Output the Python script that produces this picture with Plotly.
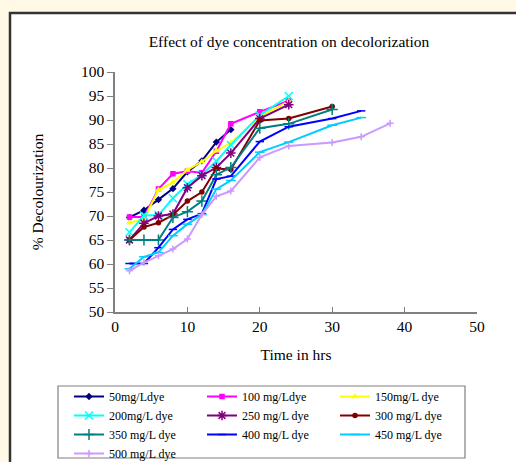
import plotly.graph_objects as go

time_a = [2, 4, 6, 8, 10, 12, 14, 16]
time_b = [2, 4, 6, 8, 10, 12, 14, 16, 20, 24]
time_c = [2, 4, 6, 8, 10, 12, 14, 16, 20, 24, 30]
time_d = [2, 4, 6, 8, 10, 12, 14, 16, 20, 24, 30, 34]
time_e = [2, 4, 6, 8, 10, 12, 14, 16, 20, 24, 30, 34, 38]

dye_50 = [69.7, 71.2, 73.4, 75.7, 79.2, 81.5, 85.4, 88.0]
dye_100 = [69.8, 69.8, 75.6, 78.8, 79.3, 79.0, 83.5, 89.2, 91.7, 94.0]
dye_150 = [68.6, 69.4, 75.4, 77.0, 79.6, 81.3, 83.6, 85.2, 90.7, 93.9]
dye_200 = [66.6, 70.1, 70.2, 73.7, 76.6, 78.6, 81.4, 84.8, 91.0, 95.0]
dye_250 = [65.0, 68.5, 70.0, 70.4, 75.9, 78.4, 80.1, 83.1, 90.3, 93.2]
dye_300 = [65.0, 67.7, 68.6, 70.2, 73.1, 75.0, 79.9, 79.7, 89.9, 90.3, 92.8]
dye_350 = [65.0, 65.0, 65.0, 69.7, 70.9, 73.1, 78.6, 80.1, 88.3, 89.2, 92.2]
dye_400 = [60.1, 60.1, 63.4, 67.2, 69.3, 70.5, 77.7, 78.3, 85.5, 88.6, 90.3, 91.9]
dye_450 = [59.0, 61.5, 62.4, 65.9, 68.3, 70.3, 75.6, 77.4, 83.3, 85.4, 88.9, 90.5]
dye_500 = [58.6, 60.3, 61.7, 63.1, 65.2, 70.3, 74.1, 75.2, 82.2, 84.6, 85.3, 86.5, 89.3]

names = ["50mg/Ldye", "100 mg/Ldye", "150mg/L dye", "200mg/L dye", "250 mg/L dye",
         "300 mg/L dye", "350 mg/L dye", "400 mg/L dye", "450 mg/L dye", "500 mg/L dye"]
xs = [time_a, time_b, time_b, time_b, time_b, time_c, time_c, time_d, time_d, time_e]
ys = [dye_50, dye_100, dye_150, dye_200, dye_250, dye_300, dye_350, dye_400, dye_450, dye_500]
colors = ["#000080", "#FF00FF", "#FFFF00", "#00FFFF", "#800080",
          "#800000", "#008080", "#0000FF", "#00CCFF", "#CC99FF"]
symbols = ["diamond", "square", "triangle-up", "x-thin", "asterisk",
           "circle", "cross-thin", "line-ew", "line-ew", "cross-thin"]
sizes = [4, 4, 4, 8, 8, 4, 8, 6, 7, 5]

FONT = "Liberation Serif, Times New Roman, serif"
FS = 15.5

fig = go.Figure()
for n, x, y, c, s, sz in zip(names, xs, ys, colors, symbols, sizes):
    fig.add_trace(go.Scatter(
        x=x, y=y, name=n, mode="lines+markers",
        line=dict(color=c, width=2),
        marker=dict(symbol=s, size=sz, color=c, line=dict(color=c, width=1.5)),
    ))

W, H = 516, 462
L, R, T, B = 115, 39, 72, 150
pw, ph = W - L - R, H - T - B

def px_x(p):
    return (p - L) / pw

def px_y(p):
    return (H - B - p) / ph

shapes = [
    dict(type="rect", xref="paper", yref="paper", layer="below",
         x0=px_x(10), x1=px_x(530), y0=px_y(480), y1=px_y(13),
         line=dict(color="#333333", width=2.5), fillcolor="white"),
    dict(type="rect", xref="paper", yref="paper", layer="below",
         x0=px_x(58), x1=px_x(465), y0=px_y(458), y1=px_y(386),
         line=dict(color="#808080", width=1.2), fillcolor="white"),
]

fig.update_layout(
    width=W, height=H,
    margin=dict(l=L, r=R, t=T, b=B, autoexpand=False),
    paper_bgcolor="#FFF9E6",
    plot_bgcolor="white",
    font=dict(family=FONT, size=FS, color="black"),
    title=dict(text="Effect of dye concentration on decolorization",
               x=289 / W, xanchor="center",
               y=1 - 42 / H, yanchor="middle",
               font=dict(family=FONT, size=FS, color="black")),
    shapes=shapes,
    showlegend=True,
    legend=dict(orientation="h",
                x=px_x(69), xanchor="left",
                y=px_y(382), yanchor="top",
                entrywidth=88, entrywidthmode="pixels",
                bgcolor="rgba(0,0,0,0)", borderwidth=0,
                font=dict(family=FONT, size=12, color="black"),
                tracegroupgap=0, itemwidth=30),
    xaxis=dict(range=[0, 50], dtick=10, tick0=0, showgrid=False, zeroline=False,
               showline=True, linecolor="#808080", linewidth=1.5,
               ticks="inside", ticklen=5, tickcolor="#808080",
               tickfont=dict(family=FONT, size=FS),
               title=dict(text="Time in hrs", standoff=15,
                          font=dict(family=FONT, size=FS))),
    yaxis=dict(range=[50, 100], dtick=5, tick0=50, showgrid=False, zeroline=False,
               showline=True, linecolor="#808080", linewidth=1.5,
               ticks="outside", ticklen=6, tickcolor="#808080",
               tickfont=dict(family=FONT, size=FS),
               title=dict(text="% Decolourization", standoff=33,
                          font=dict(family=FONT, size=FS))),
)

fig.write_html("out.html")
